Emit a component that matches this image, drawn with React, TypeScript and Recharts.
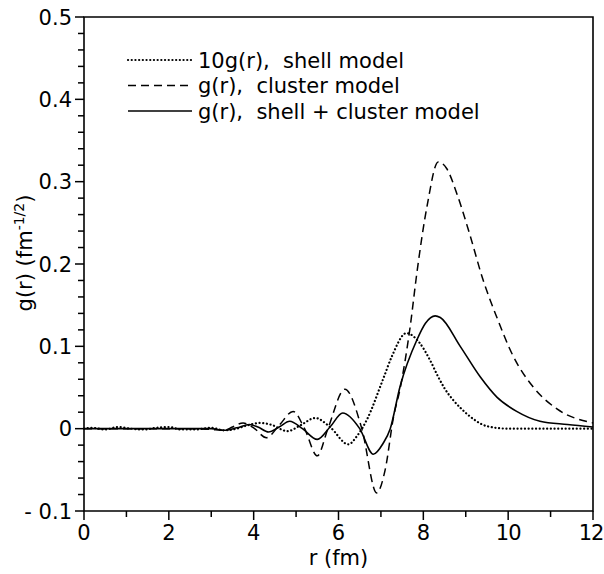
import React from 'react';
import { LineChart, Line, XAxis, YAxis, ReferenceArea } from 'recharts';

// 10g(r), shell model (dotted)
const shellR = [0, 0.2, 0.5, 0.8, 1.1, 1.4, 1.7, 2.0, 2.3, 2.6, 3.0, 3.3, 3.6, 3.85, 4.15, 4.4, 4.8, 5.1, 5.45, 5.8, 6.23, 6.45, 6.67, 7.05, 7.26, 7.6, 7.9, 8.15, 8.35, 8.5, 8.7, 8.9, 9.2, 9.5, 10, 11, 12];
const shellG = [0, 0.001, -0.001, 0.002, 0, -0.001, 0.001, 0.002, -0.001, -0.001, 0.001, -0.002, 0, 0.004, 0.007, 0.005, -0.003, 0.004, 0.013, 0.002, -0.019, -0.008, 0.011, 0.06, 0.088, 0.116, 0.105, 0.084, 0.063, 0.049, 0.035, 0.024, 0.011, 0.003, 0, 0, 0];

// g(r), cluster model (dashed)
const clusterR = [0, 0.5, 1, 1.5, 2, 2.5, 3, 3.3, 3.5, 3.75, 4.0, 4.3, 4.6, 4.93, 5.2, 5.5, 5.75, 6.15, 6.55, 6.9, 7.1, 7.3, 7.45, 7.69, 7.85, 8.09, 8.35, 8.55, 8.8, 9.1, 9.4, 9.75, 10.1, 10.6, 11.15, 12];
const clusterG = [0, 0, 0, 0, 0, 0, -0.001, -0.002, 0.002, 0.007, 0.001, -0.011, 0.004, 0.021, 0, -0.033, 0, 0.048, 0, -0.078, -0.05, 0.015, 0.048, 0.124, 0.19, 0.271, 0.324, 0.316, 0.284, 0.235, 0.182, 0.133, 0.09, 0.05, 0.024, 0.007];

// g(r), shell + cluster model (solid)
const totalR = [0, 0.5, 1, 1.5, 2, 2.5, 3, 3.3, 3.6, 3.9, 4.1, 4.35, 4.6, 4.85, 5.15, 5.5, 5.8, 6.1, 6.5, 6.82, 7.05, 7.22, 7.45, 7.85, 8.05, 8.28, 8.4, 8.87, 9.34, 9.74, 10.2, 10.75, 11.4, 12];
const totalG = [0, 0, 0, 0, 0, 0, 0, -0.002, 0.001, 0.005, 0.002, -0.004, 0.002, 0.009, 0, -0.013, 0.002, 0.019, 0, -0.031, -0.018, 0, 0.051, 0.108, 0.128, 0.137, 0.135, 0.1, 0.063, 0.038, 0.021, 0.009, 0.005, 0.002];

const xTicks = [0, 1, 2, 3, 4, 5, 6, 7, 8, 9, 10, 11, 12];
const xLabels = [0, 2, 4, 6, 8, 10, 12];
const yTicks = [-0.1, -0.08, -0.06, -0.04, -0.02, 0, 0.02, 0.04, 0.06, 0.08, 0.1, 0.12, 0.14, 0.16, 0.18, 0.2, 0.22, 0.24, 0.26, 0.28, 0.3, 0.32, 0.34, 0.36, 0.38, 0.4, 0.42, 0.44, 0.46, 0.48, 0.5];
const yLabels: Record<string, string> = { '-0.1': '- 0.1', '0': '0', '0.1': '0.1', '0.2': '0.2', '0.3': '0.3', '0.4': '0.4', '0.5': '0.5' };

const shellData = shellR.map((r, i) => ({ r, g: shellG[i] }));
const clusterData = clusterR.map((r, i) => ({ r, g: clusterG[i] }));
const totalData = totalR.map((r, i) => ({ r, g: totalG[i] }));

const FONT = '"DejaVu Sans", sans-serif';

const YTick = (props: any) => {
  const { x, y, payload } = props;
  const key = String(Math.round(payload.value * 100) / 100);
  const label = yLabels[key];
  return (
    <g>
      <line x1={x} x2={x - (label ? 9 : 6)} y1={y} y2={y} stroke="#000" strokeWidth={1.5} />
      {label && (
        <text x={x - 12} y={y} dy="0.36em" textAnchor="end" fontSize={21} fontFamily={FONT} fill="#000">
          {label}
        </text>
      )}
    </g>
  );
};

const XTick = (props: any) => {
  const { x, y, payload } = props;
  const major = xLabels.includes(payload.value);
  return (
    <g>
      <line x1={x} x2={x} y1={y} y2={y + (major ? 9 : 6)} stroke="#000" strokeWidth={1.5} />
      {major && (
        <text x={payload.value === 12 ? x - 2 : x} y={y + 29} textAnchor="middle" fontSize={21} fontFamily={FONT} fill="#000" letterSpacing={payload.value >= 10 ? -1 : 0}>
          {payload.value}
        </text>
      )}
    </g>
  );
};

const legendItems = [
  { label: '10g(r),  shell model', dash: '0.1 3.6', width: 2.2, cap: 'round' },
  { label: 'g(r),  cluster model', dash: '8 5', width: 1.5, cap: 'butt' },
  { label: 'g(r),  shell + cluster model', dash: undefined, width: 1.6, cap: 'butt' },
];

export default function App() {
  return (
    <div style={{ position: 'absolute', left: 0, top: 0, width: 604, height: 574, background: '#fff' }}>
      <LineChart width={604} height={574} margin={{ top: 17, right: 11, bottom: 0, left: 24 }}>
        <XAxis
          dataKey="r"
          type="number"
          domain={[0, 12]}
          ticks={xTicks}
          interval={0}
          tickSize={0}
          tickMargin={0}
          tickLine={false}
          axisLine={false}
          tick={<XTick />}
          height={63}
          allowDuplicatedCategory={false}
          label={{ value: 'r (fm)', position: 'insideBottom', offset: 9, fontSize: 21, fontFamily: FONT, fill: '#000' }}
        />
        <YAxis
          dataKey="g"
          type="number"
          domain={[-0.1, 0.5]}
          ticks={yTicks}
          interval={0}
          tickSize={0}
          tickMargin={0}
          tickLine={false}
          axisLine={false}
          tick={<YTick />}
          width={60}
        />
        <ReferenceArea x1={0} x2={12} y1={-0.1} y2={0.5} fill="none" stroke="#000" strokeWidth={1.6} ifOverflow="extendDomain" />
        <Line data={shellData} dataKey="g" type="monotone" stroke="#000" strokeWidth={2.2} strokeDasharray="0.1 3.6" strokeLinecap="round" dot={false} isAnimationActive={false} />
        <Line data={clusterData} dataKey="g" type="monotone" stroke="#000" strokeWidth={1.5} strokeDasharray="8 5" dot={false} isAnimationActive={false} />
        <Line data={totalData} dataKey="g" type="monotone" stroke="#000" strokeWidth={1.6} dot={false} isAnimationActive={false} />
      </LineChart>
      <svg style={{ position: 'absolute', left: 0, top: 0, pointerEvents: 'none' }} width={604} height={574}>
        <text transform="translate(32,253) rotate(-90)" textAnchor="middle" fontSize={21} fontFamily={FONT} fill="#000">
          g(r) (fm
          <tspan dy={-8} fontSize={14}>-1/2</tspan>
          <tspan dy={8}>)</tspan>
        </text>
        {legendItems.map((it, i) => (
          <g key={i}>
            <line x1={128} x2={192} y1={60 + i * 25.5} y2={60 + i * 25.5} stroke="#000" strokeWidth={it.width} strokeDasharray={it.dash} strokeLinecap={it.cap as any} />
            <text x={198} y={60 + i * 25.5} dy="0.36em" fontSize={21} fontFamily={FONT} fill="#000" style={{ whiteSpace: 'pre' }}>
              {it.label}
            </text>
          </g>
        ))}
      </svg>
    </div>
  );
}
